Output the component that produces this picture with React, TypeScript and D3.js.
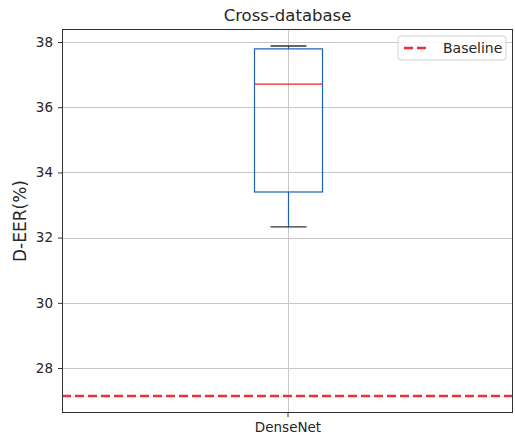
import React, {useEffect, useRef} from "react";
import * as d3 from "d3";

const categories = ["DenseNet"];
const boxStats = [{q1: 33.4, median: 36.71, q3: 37.79, low: 32.33, high: 37.88}];
const baseline = 27.14;
const yTicks = [28, 30, 32, 34, 36, 38];

const W = 515, H = 438;
const M = {left: 62, right: 513, top: 29, bottom: 413};

const App = () => {
    const ref = useRef<SVGSVGElement>(null);

    useEffect(() => {
        if (!ref.current) return;
        const svg = d3.select(ref.current);
        svg.selectAll("*").remove();
        const font = "DejaVu Sans, sans-serif";

        const x = d3.scalePoint().domain(categories).range([M.left, M.right]).padding(0.5);
        const y = d3.scaleLinear().domain([26.62, 38.4]).range([M.bottom, M.top]);

        // grid
        svg.append("g").selectAll("line").data(yTicks).join("line")
            .attr("x1", M.left).attr("x2", M.right)
            .attr("y1", d => Math.round(y(d)) + 0.5).attr("y2", d => Math.round(y(d)) + 0.5)
            .attr("stroke", "#c8c8c8").attr("stroke-width", 1);
        svg.append("g").selectAll("line").data(categories).join("line")
            .attr("x1", d => Math.round(x(d)!) + 0.5).attr("x2", d => Math.round(x(d)!) + 0.5)
            .attr("y1", M.top).attr("y2", M.bottom)
            .attr("stroke", "#c8c8c8").attr("stroke-width", 1);

        // boxes
        const bw = 68, cw = 36;
        categories.forEach((c, i) => {
            const s = boxStats[i];
            const cx = Math.round(x(c)!) + 0.5;
            const g = svg.append("g");
            g.append("line").attr("x1", cx).attr("x2", cx).attr("y1", y(s.q1)).attr("y2", y(s.low))
                .attr("stroke", "#1f5fb4").attr("stroke-width", 1.2);
            g.append("line").attr("x1", cx).attr("x2", cx).attr("y1", y(s.q3)).attr("y2", y(s.high))
                .attr("stroke", "#1f5fb4").attr("stroke-width", 1.2);
            g.append("rect").attr("x", cx - bw / 2).attr("width", bw)
                .attr("y", y(s.q3)).attr("height", y(s.q1) - y(s.q3))
                .attr("fill", "none").attr("stroke", "#1f5fb4").attr("stroke-width", 1.2);
            g.append("line").attr("x1", cx - bw / 2).attr("x2", cx + bw / 2)
                .attr("y1", y(s.median)).attr("y2", y(s.median))
                .attr("stroke", "#ee2222").attr("stroke-width", 1.2);
            [s.low, s.high].forEach(v => {
                g.append("line").attr("x1", cx - cw / 2).attr("x2", cx + cw / 2)
                    .attr("y1", y(v)).attr("y2", y(v))
                    .attr("stroke", "#333").attr("stroke-width", 1.4);
            });
        });

        // baseline
        svg.append("line").attr("x1", M.left).attr("x2", M.right)
            .attr("y1", y(baseline)).attr("y2", y(baseline))
            .attr("stroke", "#f03030").attr("stroke-width", 2.5).attr("stroke-dasharray", "9,4");

        // spines
        svg.append("rect").attr("x", M.left + 0.5).attr("y", M.top + 0.5)
            .attr("width", M.right - M.left - 1).attr("height", M.bottom - M.top - 1)
            .attr("fill", "none").attr("stroke", "#333").attr("stroke-width", 1);

        // axes
        const ya = svg.append("g").attr("transform", `translate(${M.left},0)`)
            .call(d3.axisLeft(y).tickValues(yTicks).tickSize(4).tickPadding(5).tickFormat(d3.format("d")));
        ya.select(".domain").remove();
        ya.selectAll("text").attr("font-family", font).attr("font-size", 13.5).attr("fill", "#262626");
        ya.selectAll("line").attr("stroke", "#333");

        const xa = svg.append("g").attr("transform", `translate(0,${M.bottom})`)
            .call(d3.axisBottom(x).tickSize(4).tickPadding(5));
        xa.select(".domain").remove();
        xa.selectAll("text").attr("font-family", font).attr("font-size", 13.5).attr("fill", "#262626");
        xa.selectAll("line").attr("stroke", "#333");

        // title and label
        svg.append("text").attr("x", (M.left + M.right) / 2).attr("y", 21)
            .attr("text-anchor", "middle").attr("font-family", font).attr("font-size", 16.5)
            .attr("fill", "#262626").text("Cross-database");
        svg.append("text").attr("transform", `translate(26,${(M.top + M.bottom) / 2}) rotate(-90)`)
            .attr("text-anchor", "middle").attr("font-family", font).attr("font-size", 17)
            .attr("fill", "#262626").text("D-EER(%)");

        // legend
        const lg = svg.append("g").attr("transform", "translate(398,36)");
        lg.append("rect").attr("width", 108).attr("height", 24).attr("rx", 3)
            .attr("fill", "white").attr("fill-opacity", 0.85).attr("stroke", "#d0d0d0");
        lg.append("line").attr("x1", 6).attr("x2", 30).attr("y1", 12).attr("y2", 12)
            .attr("stroke", "#f03030").attr("stroke-width", 2.5).attr("stroke-dasharray", "9,4");
        lg.append("text").attr("x", 45).attr("y", 17).attr("font-family", font).attr("font-size", 14)
            .attr("fill", "#262626").text("Baseline");
    }, []);

    return (
        <svg ref={ref} width={W} height={H} style={{position: "absolute", left: 0, top: 0, background: "white"}}></svg>
    );
};

export default App;
